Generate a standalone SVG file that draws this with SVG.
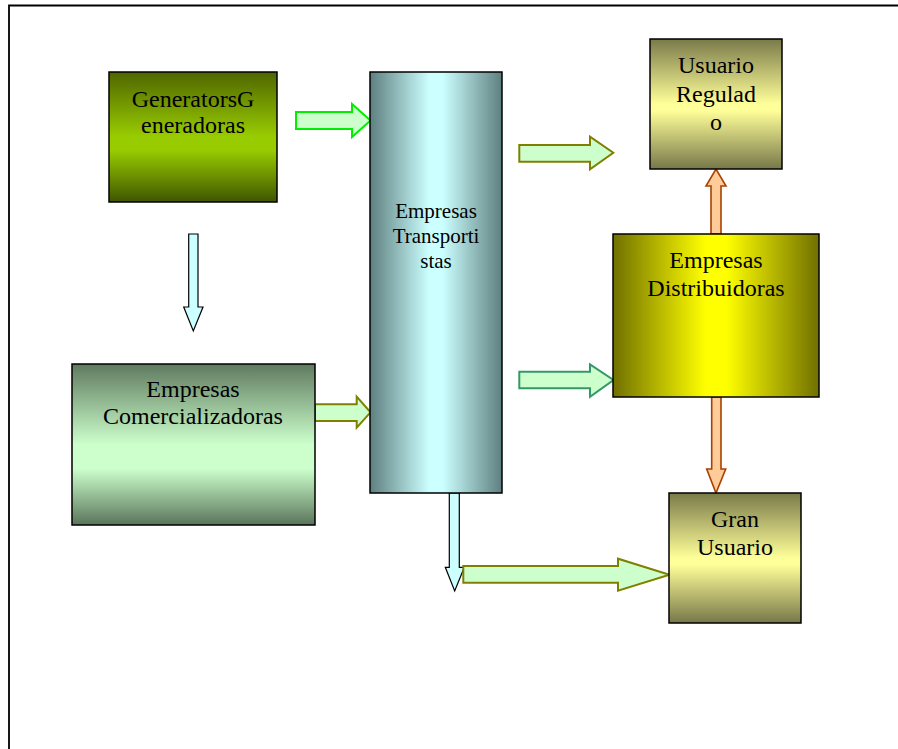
<svg xmlns="http://www.w3.org/2000/svg" width="898" height="749" viewBox="0 0 898 749">
<defs>
<linearGradient id="gGen" x1="0" y1="0" x2="0" y2="1">
<stop offset="0" stop-color="#4f6600"/><stop offset="0.5" stop-color="#99cc00"/><stop offset="0.6" stop-color="#99cc00"/><stop offset="1" stop-color="#3f5500"/>
</linearGradient>
<linearGradient id="gCom" x1="0" y1="0" x2="0" y2="1">
<stop offset="0" stop-color="#5f7a5f"/><stop offset="0.5" stop-color="#ccffcc"/><stop offset="0.65" stop-color="#ccffcc"/><stop offset="1" stop-color="#5a755a"/>
</linearGradient>
<linearGradient id="gTra" x1="0" y1="0" x2="1" y2="0">
<stop offset="0" stop-color="#5f7f7f"/><stop offset="0.45" stop-color="#ccffff"/><stop offset="0.55" stop-color="#ccffff"/><stop offset="1" stop-color="#5f7f7f"/>
</linearGradient>
<linearGradient id="gUsu" x1="0" y1="0" x2="0" y2="1">
<stop offset="0" stop-color="#7a7a4a"/><stop offset="0.5" stop-color="#ffff99"/><stop offset="0.55" stop-color="#ffff99"/><stop offset="1" stop-color="#77774a"/>
</linearGradient>
<linearGradient id="gDis" x1="0" y1="0" x2="1" y2="0">
<stop offset="0" stop-color="#707000"/><stop offset="0.45" stop-color="#ffff00"/><stop offset="0.55" stop-color="#ffff00"/><stop offset="1" stop-color="#707000"/>
</linearGradient>
</defs>
<style>
.box{stroke:#000;stroke-width:1.5}
.t{font-family:"Liberation Serif","Times New Roman",serif;font-size:24px;fill:#000;text-anchor:middle}
.ts{font-size:21px}
.ag{fill:#ccffcc;stroke-width:2;stroke-linejoin:miter}
.ac{fill:#ccffff;stroke:#000;stroke-width:1.2}
.ao{fill:#ffcc99;stroke:#a94200;stroke-width:1.6}
</style>
<rect x="0" y="0" width="898" height="749" fill="#fff"/>
<path d="M9 749 V5.5 H898" fill="none" stroke="#000" stroke-width="1.8"/>

<g id="connectors">
<polygon class="ac" points="188.7,234 198,234 198,307 203,307 193.3,331 183.7,307 188.7,307"/>
<polygon class="ag" stroke="#00ee00" points="296,112 352,112 352,104 370.5,120.5 352,137 352,129 296,129"/>
<polygon class="ag" stroke="#808000" points="315,404.3 356.7,404.3 356.7,396.7 370.5,412.3 356.7,427.7 356.7,421 315,421"/>
<polygon class="ag" stroke="#808000" points="519.3,145 590,145 590,136.7 613.3,152.7 590,169.3 590,161.7 519.3,161.7"/>
<polygon class="ag" stroke="#339966" points="519.3,371.7 590,371.7 590,364.3 613.5,380 590,396.7 590,388.3 519.3,388.3"/>
<polygon class="ac" points="449.3,493 459.3,493 459.3,567.3 464.3,567.3 454.7,591 445.3,567.3 449.3,567.3"/>
<polygon class="ag" stroke="#808000" points="463.3,566 618,566 618,558.7 669.5,574.7 618,590.7 618,582.7 463.3,582.7"/>
<polygon class="ao" points="711,234 721,234 721,186 726,186 716,169 706,186 711,186"/>
<polygon class="ao" points="711.7,397 721,397 721,469 725.7,469 716,493 706.7,469 711.7,469"/>
</g>

<g id="generadoras">
<rect class="box" x="109" y="72" width="168" height="130" fill="url(#gGen)"/>
<text class="t" x="193" y="107">GeneratorsG</text>
<text class="t" x="193" y="133">eneradoras</text>
</g>
<g id="comercializadoras">
<rect class="box" x="72" y="364" width="243" height="161" fill="url(#gCom)"/>
<text class="t" x="193" y="397">Empresas</text>
<text class="t" x="193" y="424">Comercializadoras</text>
</g>
<g id="transportistas">
<rect class="box" x="370" y="72" width="132" height="421" fill="url(#gTra)"/>
<text class="t ts" x="436" y="218">Empresas</text>
<text class="t ts" x="436" y="243">Transporti</text>
<text class="t ts" x="436" y="268">stas</text>
</g>
<g id="usuario-regulado">
<rect class="box" x="650" y="39" width="132" height="130" fill="url(#gUsu)"/>
<text class="t" x="716" y="73">Usuario</text>
<text class="t" x="716" y="102">Regulad</text>
<text class="t" x="716" y="130">o</text>
</g>
<g id="distribuidoras">
<rect class="box" x="613" y="234" width="206" height="163" fill="url(#gDis)"/>
<text class="t" x="716" y="268">Empresas</text>
<text class="t" x="716" y="296">Distribuidoras</text>
</g>
<g id="gran-usuario">
<rect class="box" x="669" y="493" width="132" height="130" fill="url(#gUsu)"/>
<text class="t" x="735" y="527">Gran</text>
<text class="t" x="735" y="555">Usuario</text>
</g>
</svg>
